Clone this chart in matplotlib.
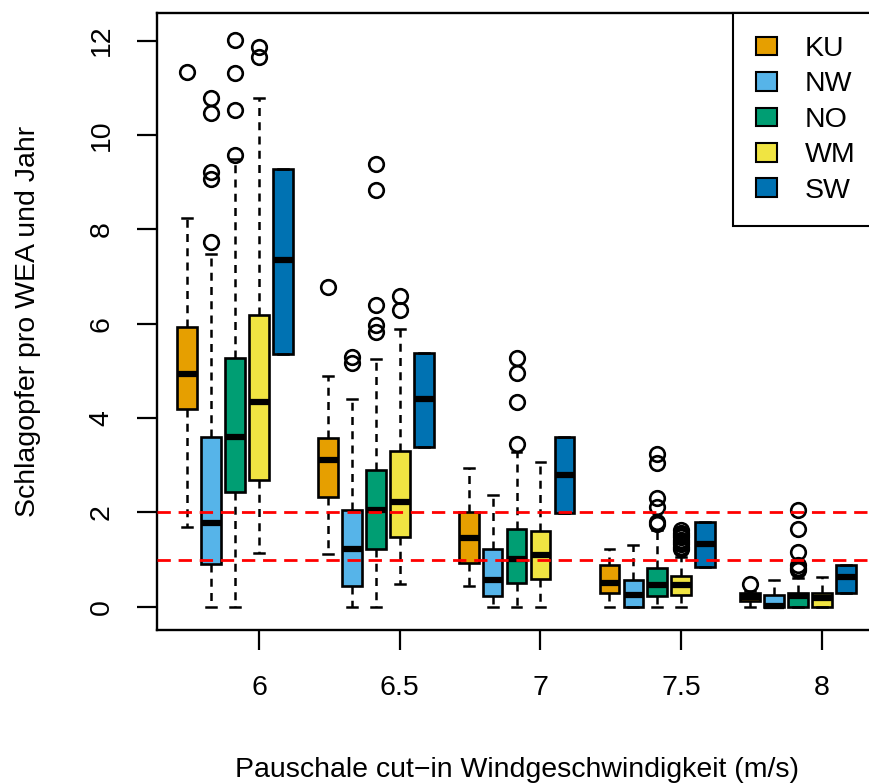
import numpy as np
import matplotlib
matplotlib.use("Agg")
import matplotlib.pyplot as plt
from matplotlib.patches import Patch

plt.rcParams['font.family'] = ['Liberation Sans', 'DejaVu Sans']

# cut-in wind speeds (m/s) and regions
speeds = [6, 6.5, 7, 7.5, 8]
regions = ['KU', 'NW', 'NO', 'WM', 'SW']
colors = ['#E69F00', '#56B4E9', '#009E73', '#F0E442', '#0072B2']

# box statistics per region, one value per cut-in speed
KU_lo = [1.68, 1.11, 0.43, 0.0, 0.0]
KU_q1 = [4.20, 2.33, 0.92, 0.29, 0.12]
KU_med = [4.93, 3.10, 1.45, 0.50, 0.20]
KU_q3 = [5.93, 3.57, 2.00, 0.89, 0.29]
KU_hi = [8.23, 4.90, 2.95, 1.23, 0.33]
KU_out = [[11.34], [6.77], [], [], [0.49]]

NW_lo = [0.0, 0.0, 0.0, 0.0, 0.0]
NW_q1 = [0.90, 0.44, 0.23, 0.0, 0.0]
NW_med = [1.77, 1.23, 0.57, 0.25, 0.02]
NW_q3 = [3.60, 2.05, 1.23, 0.57, 0.25]
NW_hi = [7.47, 4.40, 2.36, 1.31, 0.56]
NW_out = [[7.73, 9.06, 9.21, 10.47, 10.78], [5.16, 5.30], [], [], []]

NO_lo = [0.0, 0.0, 0.0, 0.0, 0.0]
NO_q1 = [2.44, 1.22, 0.51, 0.23, 0.0]
NO_med = [3.60, 2.05, 1.02, 0.46, 0.22]
NO_q3 = [5.28, 2.90, 1.65, 0.83, 0.30]
NO_hi = [9.49, 5.26, 3.27, 1.62, 0.60]
NO_out = [[9.57, 10.54, 11.32, 12.01],
          [5.83, 5.97, 6.39, 8.83, 9.39],
          [3.44, 4.35, 4.96, 5.28],
          [1.76, 1.80, 2.12, 2.30, 3.04, 3.23],
          [0.78, 0.83, 0.88, 1.17, 1.64, 2.04]]

WM_lo = [1.14, 0.49, 0.0, 0.0, 0.0]
WM_q1 = [2.69, 1.47, 0.59, 0.25, 0.0]
WM_med = [4.33, 2.22, 1.10, 0.47, 0.18]
WM_q3 = [6.18, 3.31, 1.61, 0.66, 0.28]
WM_hi = [10.78, 5.88, 3.06, 1.05, 0.63]
WM_out = [[11.66, 11.87], [6.29, 6.59], [],
          [1.22, 1.27, 1.32, 1.37, 1.42, 1.47, 1.52, 1.57, 1.62], []]

SW_q1 = [5.35, 3.39, 1.98, 0.85, 0.29]
SW_med = [7.34, 4.40, 2.79, 1.33, 0.63]
SW_q3 = [9.27, 5.38, 3.59, 1.79, 0.89]
SW_lo = SW_q1
SW_hi = SW_q3
SW_out = [[], [], [], [], []]

thresholds = [1, 2]

stats = {
    'KU': (KU_lo, KU_q1, KU_med, KU_q3, KU_hi, KU_out),
    'NW': (NW_lo, NW_q1, NW_med, NW_q3, NW_hi, NW_out),
    'NO': (NO_lo, NO_q1, NO_med, NO_q3, NO_hi, NO_out),
    'WM': (WM_lo, WM_q1, WM_med, WM_q3, WM_hi, WM_out),
    'SW': (SW_lo, SW_q1, SW_med, SW_q3, SW_hi, SW_out),
}
offsets = [-0.255, -0.17, -0.085, 0.0, 0.085]
fs = 20.5

fig = plt.figure(figsize=(8.69, 7.83), dpi=100, facecolor='white')
ax = fig.add_axes([156.7 / 869, 153 / 783, 721.3 / 869, 616.7 / 783])

for reg, col, off in zip(regions, colors, offsets):
    lo, q1, med, q3, hi, out = stats[reg]
    bstats = [dict(whislo=lo[i], q1=q1[i], med=med[i], q3=q3[i], whishi=hi[i],
                   fliers=out[i]) for i in range(len(speeds))]
    ax.bxp(bstats, positions=[s + off for s in speeds], widths=0.07,
           capwidths=0.035, patch_artist=True, manage_ticks=False,
           boxprops=dict(facecolor=col, edgecolor='black', linewidth=1.9),
           medianprops=dict(color='black', linewidth=4.5, solid_capstyle='butt'),
           whiskerprops=dict(color='black', linewidth=1.8, linestyle=(0, (3.2, 2.5))),
           capprops=dict(color='black', linewidth=1.8),
           flierprops=dict(marker='o', markerfacecolor='none', markeredgecolor='black',
                           markersize=10.5, markeredgewidth=1.9))

for t in thresholds:
    ax.axhline(t, color='red', linewidth=2, linestyle=(0, (4.8, 2.8)), zorder=5)

ax.set_xlim(5.6366, 8.199)
ax.set_ylim(-0.494, 12.58)
ax.set_xticks(speeds)
ax.set_xticklabels(['6', '6.5', '7', '7.5', '8'])
ax.set_yticks([0, 2, 4, 6, 8, 10, 12])
ax.tick_params(axis='both', length=14.4, width=1.6, labelsize=fs)
ax.tick_params(axis='x', pad=18)
ax.tick_params(axis='y', pad=16, labelrotation=90)
for lab in ax.get_yticklabels():
    lab.set_verticalalignment('center')
for sp in ax.spines.values():
    sp.set_linewidth(1.7)

ax.set_xlabel('Pauschale cut\u2212in Windgeschwindigkeit (m/s)', fontsize=fs, va='center')
ax.xaxis.set_label_coords(0.5, -0.227)
ax.set_ylabel('Schlagopfer pro WEA und Jahr', fontsize=fs, va='center', ha='center')
ax.yaxis.set_label_coords(-0.1784, 0.5)

handles = [Patch(facecolor=c, edgecolor='black', linewidth=1.5) for c in colors]
leg = ax.legend(handles, regions, loc='upper right', bbox_to_anchor=(1, 1),
                borderaxespad=0, fontsize=fs, fancybox=False, framealpha=1,
                edgecolor='black', handlelength=0.77, handleheight=0.63,
                handletextpad=0.95, labelspacing=0.33, borderpad=0.8)
leg.get_frame().set_linewidth(1.5)

fig.savefig('out.png', dpi=100, facecolor='white')
